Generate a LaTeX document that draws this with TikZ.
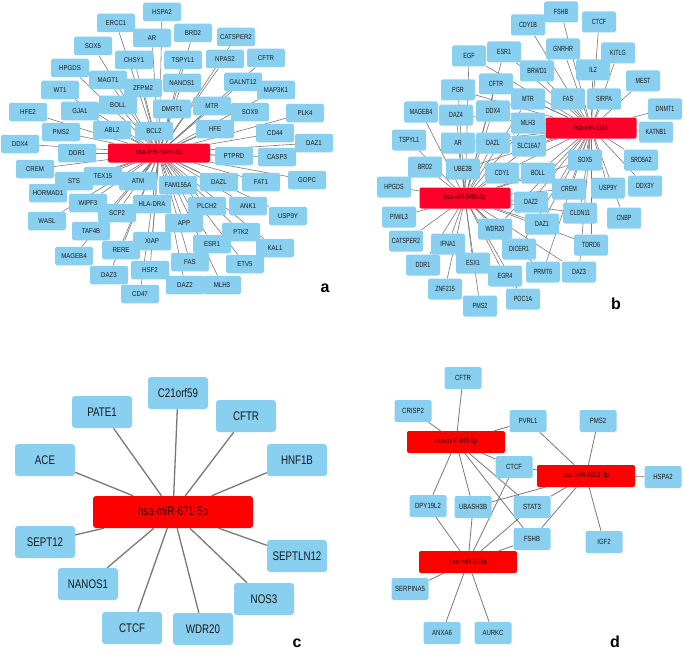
\documentclass[tikz,border=0pt]{standalone}
\usepackage{fontspec}
\setmainfont{Liberation Sans}
\newfontfamily\panelAfont{Liberation Sans}[FakeStretch=0.87]
\newfontfamily\panelBfont{Liberation Sans}[FakeStretch=0.72]
\newfontfamily\panelCfont{Liberation Sans}[FakeStretch=0.78]
\newfontfamily\panelDfont{Liberation Sans}[FakeStretch=0.8]
\definecolor{geneblue}{RGB}{137,207,240}
\definecolor{hubred}{RGB}{255,0,40}
\definecolor{hubpure}{RGB}{255,0,0}
\definecolor{linkgray}{RGB}{120,120,120}
\definecolor{hubtext}{RGB}{60,0,0}
\pgfdeclarelayer{edges}
\pgfsetlayers{edges,main}
\tikzset{
  gene/.style={rectangle, rounded corners=1.6pt, fill=geneblue, text=black!90, inner sep=0pt},
  na/.style={gene, minimum width=38pt, minimum height=18.5pt, font=\panelAfont\fontsize{7}{8}\selectfont},
  nb/.style={gene, minimum width=34pt, minimum height=21pt, font=\panelBfont\fontsize{7.5}{8}\selectfont},
  nc/.style={gene, rounded corners=3pt, minimum width=60pt, minimum height=32pt, font=\panelCfont\fontsize{12.5}{13}\selectfont},
  nd/.style={gene, minimum width=37pt, minimum height=22pt, font=\panelDfont\fontsize{7.5}{8}\selectfont},
  hub/.style={rectangle, rounded corners=2pt, inner sep=0pt, text=hubtext},
  ha/.style={hub, fill=hubred, minimum width=102pt, minimum height=19pt, font=\panelAfont\fontsize{7}{8}\selectfont},
  hb/.style={hub, fill=hubred, minimum width=91pt, minimum height=21pt, font=\panelBfont\fontsize{7.5}{8}\selectfont},
  hc/.style={hub, fill=hubpure, rounded corners=3pt, minimum width=160pt, minimum height=32pt, font=\panelCfont\fontsize{12.5}{13}\selectfont},
  hd/.style={hub, fill=hubpure, minimum width=98pt, minimum height=22pt, font=\panelDfont\fontsize{7.5}{8}\selectfont},
  linka/.style={draw=linkgray, line width=0.6pt},
  linkc/.style={draw=linkgray, line width=1.3pt},
  linkd/.style={draw=linkgray, line width=0.8pt},
  plabel/.style={font=\bfseries\fontsize{16}{16}\selectfont, inner sep=0pt}
}
\begin{document}
\begin{tikzpicture}[x=1pt, y=-1pt]
\useasboundingbox (0,0) rectangle (684,650);
\begin{pgfonlayer}{edges}
\fill[white] (0,0) rectangle (684,650);
\end{pgfonlayer}

% ---------------- panel a ----------------
\node[ha] (ahub) at (159,153) {hsa-miR-548c-3p};
\foreach \x/\y/\n in {162/12/HSPA2, 116/23/ERCC1, 152/38/AR, 193/33/BRD2, 236/37/CATSPER2,
  93/46/SOX5, 134/60/CHSY1, 183/60/TSPYL1, 225/59/NPAS2, 266/58/CFTR, 70/68/HPGDS,
  108/80/MAGT1, 143/88/ZFPM2, 182/83/NANOS1, 243/82/GALNT12, 276/90/MAP3K1, 60/90/WT1,
  118/105/BOLL, 80/111/GJA1, 28/112/HFE2, 172/109/DMRT1, 212/106/MTR, 250/112/SOX9,
  305/113/PLK4, 61/132/PMS2, 112/130/ABL2, 154/131/BCL2, 215/129/HFE, 275/133/CD44,
  314/143/DAZ1, 20/144/DDX4, 77/153/DDR1, 234/156/PTPRD, 277/157/CASP3, 35/169/CREM,
  103/176/TEX15, 74/181/STS, 138/181/ATM, 178/185/FAM155A, 219/182/DAZL, 261/182/FAT1,
  307/180/GOPC, 48/193/HORMAD1, 88/203/WIPF3, 207/206/PLCH2, 248/206/ANK1,
  117/213/SCP2, 47/221/WASL, 184/223/APP, 288/216/USP9Y, 91/231/TAF4B, 241/232/PTK2,
  152/241/XIAP, 212/244/ESR1, 275/248/KAL1, 121/250/RERE, 74/256/MAGEB4, 190/262/FAS,
  245/264/ETV5, 150/270/HSF2, 109/275/DAZ3, 185/285/DAZ2, 222/285/MLH3, 140/294/CD47}
  \node[na] (a\n) at (\x,\y) {\n};
\node[na] (aHLADRA) at (152,204) {HLA-DRA};
\begin{pgfonlayer}{edges}
\foreach \n in {HSPA2, ERCC1, AR, BRD2, CATSPER2, SOX5, CHSY1, TSPYL1, NPAS2, CFTR, HPGDS,
  MAGT1, ZFPM2, NANOS1, GALNT12, MAP3K1, WT1, BOLL, GJA1, HFE2, DMRT1, MTR, SOX9, PLK4,
  PMS2, ABL2, BCL2, HFE, CD44, DAZ1, DDX4, DDR1, PTPRD, CASP3, CREM, TEX15, STS, ATM,
  FAM155A, DAZL, FAT1, GOPC, HORMAD1, WIPF3, HLADRA, PLCH2, ANK1, SCP2, WASL, APP, USP9Y,
  TAF4B, PTK2, XIAP, ESR1, KAL1, RERE, MAGEB4, FAS, ETV5, HSF2, DAZ3, DAZ2, MLH3, CD47}
  \draw[linka] (ahub) -- (a\n);
\end{pgfonlayer}
\node[plabel] (alabel) at (325,288) {a};

% ---------------- panel b ----------------
\node[hb] (bhubA) at (591,128) {hsa-miR-3163};
\node[hb] (bhubB) at (465,198) {hsa-miR-548c-3p};
\foreach \x/\y/\n in {561/12/FSHB, 528/25/CDY1B, 599/22/CTCF, 469/56/EGF, 504/52/ESR1,
  563/49/GNRHR, 618/53/KITLG, 537/71/BRWD1, 593/70/IL2, 643/81/MEST, 496/84/CFTR,
  458/90/PGR, 528/99/MTR, 568/99/FAS, 604/99/SIRPA, 665/109/DNMT1, 421/112/MAGEB4,
  456/115/DAZ4, 493/111/DDX4, 528/123/MLH3, 656/132/KATNB1, 409/140/TSPYL1, 458/143/AR,
  493/143/DAZL, 529/146/SLC16A7, 425/167/BRD2, 463/169/UBE2B, 502/173/CDY1, 538/173/BOLL,
  585/160/SOX5, 641/160/SRD5A2, 394/187/HPGDS, 569/189/CREM, 608/188/USP9Y, 645/186/DDX3Y,
  531/202/DAZ2, 580/213/CLDN11, 624/218/CNBP, 399/217/PIWIL3, 542/224/DAZ1, 495/229/WDR20,
  406/241/CATSPER2, 448/244/IFNA1, 591/245/TDRD6, 519/249/DICER1, 423/265/DDR1,
  473/263/ESX1, 505/276/EGR4, 543/272/PRMT6, 579/272/DAZ3, 445/289/ZNF215,
  523/299/POC1A, 480/306/PMS2}
  \node[nb] (b\n) at (\x,\y) {\n};
\begin{pgfonlayer}{edges}
\foreach \n in {FSHB, CDY1B, CTCF, GNRHR, KITLG, BRWD1, IL2, MEST, FAS, SIRPA, DNMT1,
  KATNB1, SRD5A2, DDX3Y, USP9Y, CNBP}
  \draw[linka] (bhubA) -- (b\n);
\foreach \n in {BRD2, HPGDS, PIWIL3, CATSPER2, DDR1, IFNA1, ZNF215, ESX1, PMS2, EGR4,
  TSPYL1, MAGEB4, POC1A}
  \draw[linka] (bhubB) -- (b\n);
\foreach \n in {EGF, ESR1, CFTR, PGR, DAZ4, DDX4, AR, DAZL, MTR, MLH3, SLC16A7, UBE2B,
  CDY1, BOLL, SOX5, CREM, DAZ2, DAZ1, CLDN11, TDRD6, DAZ3, PRMT6, DICER1, WDR20}
  {\draw[linka] (bhubA) -- (b\n); \draw[linka] (bhubB) -- (b\n);}
\end{pgfonlayer}
\node[plabel] (blabel) at (616,304) {b};

% ---------------- panel c ----------------
\node[hc] (chub) at (173,512) {hsa-miR-671-5p};
\foreach \x/\y/\n in {178/393/C21orf59, 102/412/PATE1, 246/416/CFTR, 45/460/ACE,
  297/460/HNF1B, 45/542/SEPT12, 297/556/SEPTLN12, 88/584/NANOS1, 264/599/NOS3,
  132/628/CTCF, 203/629/WDR20}
  \node[nc] (c\n) at (\x,\y) {\n};
\begin{pgfonlayer}{edges}
\foreach \n in {C21orf59, PATE1, CFTR, ACE, HNF1B, SEPT12, SEPTLN12, NANOS1, NOS3, CTCF, WDR20}
  \draw[linkc] (chub) -- (c\n);
\end{pgfonlayer}
\node[plabel] (clabel) at (297,643) {c};

% ---------------- panel d ----------------
\node[hd] (dhubA) at (456,442) {hsa-miR-340-5p};
\node[hd] (dhubB) at (586,476) {hsa-miR-3613-3p};
\node[hd] (dhubC) at (468,562) {hsa-miR-203a};
\foreach \x/\y/\n in {463/378/CFTR, 413/411/CRISP2, 528/421/PVRL1, 598/421/PMS2,
  514/467/CTCF, 663/477/HSPA2, 428/506/DPY19L2, 473/507/UBASH3B, 532/507/STAT3,
  532/539/FSHB, 604/542/IGF2, 410/589/SERPINA5, 442/633/ANXA6, 493/633/AURKC}
  \node[nd] (d\n) at (\x,\y) {\n};
\begin{pgfonlayer}{edges}
\foreach \n in {CFTR, CRISP2, PVRL1, DPY19L2, UBASH3B, CTCF, STAT3, FSHB}
  \draw[linkd] (dhubA) -- (d\n);
\foreach \n in {PVRL1, PMS2, CTCF, HSPA2, IGF2, UBASH3B, STAT3, FSHB}
  \draw[linkd] (dhubB) -- (d\n);
\foreach \n in {DPY19L2, UBASH3B, CTCF, STAT3, FSHB, SERPINA5, ANXA6, AURKC}
  \draw[linkd] (dhubC) -- (d\n);
\end{pgfonlayer}
\node[plabel] (dlabel) at (615,642) {d};
\end{tikzpicture}
\end{document}
